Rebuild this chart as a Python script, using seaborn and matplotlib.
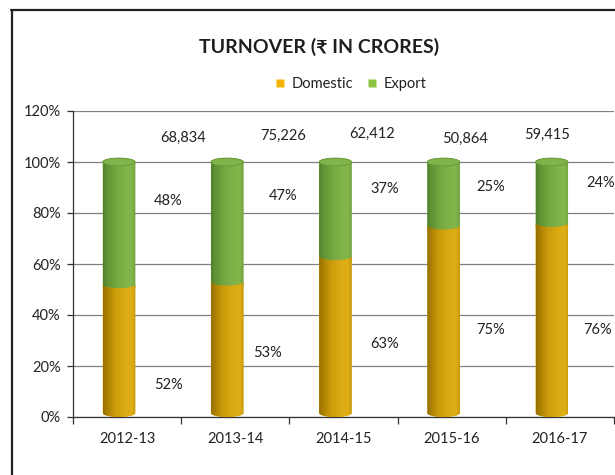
import numpy as np
import pandas as pd
import matplotlib
matplotlib.use("Agg")
import matplotlib.pyplot as plt
import seaborn as sns
from matplotlib.patches import Ellipse, PathPatch
from matplotlib.path import Path
from matplotlib.colors import LinearSegmentedColormap
from matplotlib.lines import Line2D

# ---- data ----
years = ["2012-13", "2013-14", "2014-15", "2015-16", "2016-17"]
domestic_pct = [52, 53, 63, 75, 76]
export_pct = [48, 47, 37, 25, 24]
turnover_cr = [68834, 75226, 62412, 50864, 59415]
y_ticks = [0, 20, 40, 60, 80, 100, 120]

# ---- label layout (x offsets in category units, y in percent) ----
dom_label_dx = [0.38, 0.30, 0.38, 0.36, 0.35]
dom_label_y = [12.5, 25.1, 28.6, 34.1, 34.1]
exp_label_dx = [0.38, 0.44, 0.38, 0.36, 0.38]
exp_label_y = [84.7, 86.7, 89.4, 90.2, 91.8]
tot_label_dx = [0.52, 0.44, 0.26, 0.12, -0.12]
tot_label_y = [109.6, 110.3, 111.0, 109.0, 110.6]

GOLD = "#d4a20c"
GREEN = "#78aa44"
FS = 10.5

sns.set_theme(style="white")
plt.rcParams["font.family"] = ["Lato", "Noto Sans", "DejaVu Sans"]

fig = plt.figure(figsize=(6.15, 4.75), dpi=100)
W, H = 615, 475
ax = fig.add_axes([73 / W, 1 - 417 / H, (614 - 73) / W, (417 - 111) / H])

df = pd.DataFrame({"year": years, "Domestic": domestic_pct, "Export": export_pct})
df["Total"] = df["Domestic"] + df["Export"]

sns.barplot(data=df, x="year", y="Total", color=GREEN, width=0.3,
            saturation=1, errorbar=None, ax=ax)
sns.barplot(data=df, x="year", y="Domestic", color=GOLD, width=0.3,
            saturation=1, errorbar=None, ax=ax)

green_cm = LinearSegmentedColormap.from_list(
    "cyl_green",
    [(0.0, "#4f7e2a"), (0.12, "#5f9034"), (0.35, "#72a53f"),
     (0.65, "#80b349"), (0.88, "#84b74c"), (1.0, "#6e9f3d")])
gold_cm = LinearSegmentedColormap.from_list(
    "cyl_gold",
    [(0.0, "#946c00"), (0.12, "#a87e02"), (0.35, "#c99a0a"),
     (0.65, "#dcab14"), (0.88, "#e0b019"), (1.0, "#c49508")])

RY = 1.55          # half-height of the elliptical cylinder ends (percent units)
SHIFT = -0.075     # cylinders sit slightly left of the category centre
grad = np.linspace(0, 1, 256).reshape(1, -1)
t_lo = np.linspace(np.pi, 2 * np.pi, 60)


def cylinder_body(cx, a, y_bot, y_top, top_upper):
    """Outline of a cylinder segment: curved bottom, curved top."""
    bx = cx + a * np.cos(t_lo)
    by = (y_bot + (RY if y_bot == 0 else 0)) + RY * np.sin(t_lo)
    if top_upper:
        tt = np.linspace(0, np.pi, 60)
    else:
        tt = np.linspace(2 * np.pi, np.pi, 60)
    tx = cx + a * np.cos(tt)
    ty = y_top + RY * np.sin(tt)
    verts = np.vstack([np.column_stack([bx, by]), np.column_stack([tx, ty])])
    verts = np.vstack([verts, verts[:1]])
    return Path(verts, closed=True)


n = len(years)
green_bars = ax.patches[:n]
gold_bars = ax.patches[n:2 * n]

for i in range(n):
    g, d = green_bars[i], gold_bars[i]
    w = g.get_width()
    cx = g.get_x() + w / 2 + SHIFT
    a = w / 2
    top = g.get_y() + g.get_height()
    junction = d.get_y() + d.get_height()
    g.set_visible(False)
    d.set_visible(False)

    # export segment (full height, gold drawn over its lower part)
    gp = PathPatch(cylinder_body(cx, a, junction - RY, top, True),
                   facecolor=GREEN, edgecolor="none", zorder=2)
    ax.add_patch(gp)
    im = ax.imshow(grad, cmap=green_cm, aspect="auto", interpolation="bicubic",
                   extent=(cx - a, cx + a, junction - 2 * RY, top + RY),
                   zorder=2.1, alpha=0.96)
    im.set_clip_path(gp)

    # domestic segment
    dp = PathPatch(cylinder_body(cx, a, 0, junction, False),
                   facecolor=GOLD, edgecolor="none", zorder=3)
    ax.add_patch(dp)
    im2 = ax.imshow(grad, cmap=gold_cm, aspect="auto", interpolation="bicubic",
                    extent=(cx - a, cx + a, 0, junction + RY),
                    zorder=3.1, alpha=0.96)
    im2.set_clip_path(dp)

    # top cap
    ax.add_patch(Ellipse((cx, top), 2 * a, 2 * RY, facecolor="#80b34a",
                         edgecolor="#679737", linewidth=0.6, zorder=4))

    # labels
    ax.text(i + dom_label_dx[i], dom_label_y[i], f"{domestic_pct[i]}%",
            ha="center", va="center", fontsize=FS, color="#222222", zorder=5)
    ax.text(i + exp_label_dx[i], exp_label_y[i], f"{export_pct[i]}%",
            ha="center", va="center", fontsize=FS, color="#222222", zorder=5)
    ax.text(i + tot_label_dx[i], tot_label_y[i], f"{turnover_cr[i]:,}",
            ha="center", va="center", fontsize=FS, color="#222222", zorder=5)

ax.set_xlim(-0.5, n - 0.5)
ax.set_ylim(0, 120)
ax.set_yticks(y_ticks)
ax.set_yticklabels([f"{v}%" for v in y_ticks])
ax.set_xticks(range(n))
ax.set_xticklabels(years)
ax.set_xticks(np.arange(-0.5, n, 1.0), minor=True)
ax.set_xlabel("")
ax.set_ylabel("")

ax.set_axisbelow(True)
ax.yaxis.grid(True, color="#808080", linewidth=0.9)
ax.xaxis.grid(False)
for side in ["top", "right"]:
    ax.spines[side].set_visible(False)
for side in ["left", "bottom"]:
    ax.spines[side].set_color("#333333")
    ax.spines[side].set_linewidth(0.9)

ax.tick_params(axis="y", which="major", left=True, length=4, width=0.9,
               color="#333333", pad=5, labelsize=FS, labelcolor="#222222")
ax.tick_params(axis="x", which="major", bottom=False, length=0, pad=10.5,
               labelsize=FS, labelcolor="#222222")
ax.tick_params(axis="x", which="minor", bottom=True, length=5, width=0.9,
               color="#333333")

# title and legend
fig.text(319 / W, 1 - 47 / H, "TURNOVER (₹ IN CRORES)", ha="center",
         va="center", fontsize=14, fontweight="bold", color="#1e1e1e")
handles = [Line2D([], [], marker="s", linestyle="none", markersize=6,
                  markerfacecolor="#f2b600", markeredgecolor="none"),
           Line2D([], [], marker="s", linestyle="none", markersize=6,
                  markerfacecolor="#8cc43f", markeredgecolor="none")]
fig.legend(handles, ["Domestic", "Export"], loc="center",
           bbox_to_anchor=(350 / W, 1 - 84 / H), ncol=2, frameon=False,
           fontsize=FS, handlelength=0.8, handletextpad=0.4,
           columnspacing=0.9, labelcolor="#222222")

# outer chart frame
fy = 1 - 10 / H
fx = 11.5 / W
fig.add_artist(Line2D([fx, fx], [0, fy], color="#222222", linewidth=1.6,
                      transform=fig.transFigure))
fig.add_artist(Line2D([fx - 0.8 / W, 1], [fy, fy], color="#222222",
                      linewidth=1.6, transform=fig.transFigure))

fig.savefig("out.png", dpi=100)
